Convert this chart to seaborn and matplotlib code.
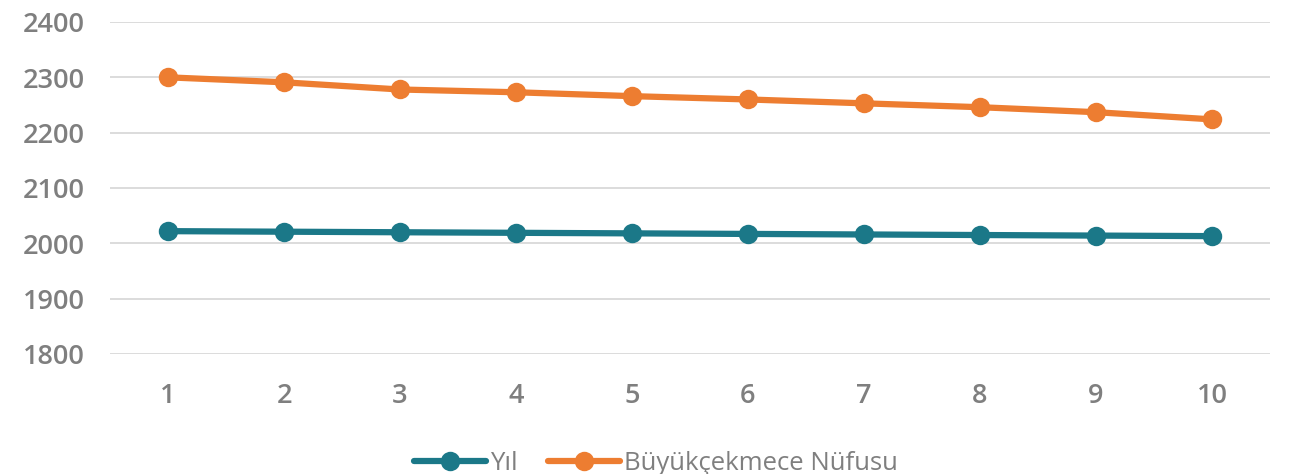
import matplotlib
matplotlib.use("Agg")
import matplotlib.pyplot as plt
import seaborn as sns
import pandas as pd

x_values = [1, 2, 3, 4, 5, 6, 7, 8, 9, 10]
yil = [2022, 2021, 2020, 2019, 2018, 2017, 2016, 2015, 2014, 2013]
nufus = [2300, 2291, 2278, 2273, 2266, 2260, 2253, 2246, 2237, 2224]
series_names = ["Yıl", "Büyükçekmece Nüfusu"]
y_ticks = [1800, 1900, 2000, 2100, 2200, 2300, 2400]

df = pd.DataFrame({
    "x": x_values * 2,
    "value": yil + nufus,
    "series": [series_names[0]] * len(x_values) + [series_names[1]] * len(x_values),
})

sns.set_theme(style="white")
plt.rcParams['font.family'] = ['Open Sans', 'DejaVu Sans']

fig = plt.figure(figsize=(13.16, 4.74), dpi=100)
ax = fig.add_axes([0.0836, 0.2532, 0.8814, 0.7004])

palette = {series_names[0]: "#1B7888", series_names[1]: "#ED7D31"}
sns.lineplot(data=df, x="x", y="value", hue="series", palette=palette,
             marker="o", markersize=14, linewidth=4.5, markeredgewidth=0,
             ax=ax, legend=True)

ax.set_xlim(0.5, 10.5)
ax.set_ylim(1800, 2400)
ax.set_yticks(y_ticks)
ax.set_xticks(x_values)
ax.set_xticklabels([str(v) for v in x_values])
ax.yaxis.grid(True, color="#D9D9D9", linewidth=1.3)
ax.xaxis.grid(False)
for s in ax.spines.values():
    s.set_visible(False)
ax.tick_params(axis="both", length=0, labelsize=19.5, labelcolor="#7F7F7F")
ax.tick_params(axis="y", pad=18)
ax.tick_params(axis="x", pad=20)
for lab in ax.get_xticklabels() + ax.get_yticklabels():
    lab.set_fontweight("semibold")
ax.set_xlabel("")
ax.set_ylabel("")

handles, labels = ax.get_legend_handles_labels()
leg = ax.legend(handles, labels, loc="center", bbox_to_anchor=(0.4985, 0.022),
                bbox_transform=fig.transFigure,
                ncol=2, frameon=False, fontsize=18.5, handlelength=2.8,
                handletextpad=0.15, columnspacing=1.2)
for t in leg.get_texts():
    t.set_color("#7F7F7F")

fig.savefig("out.png", dpi=100)
